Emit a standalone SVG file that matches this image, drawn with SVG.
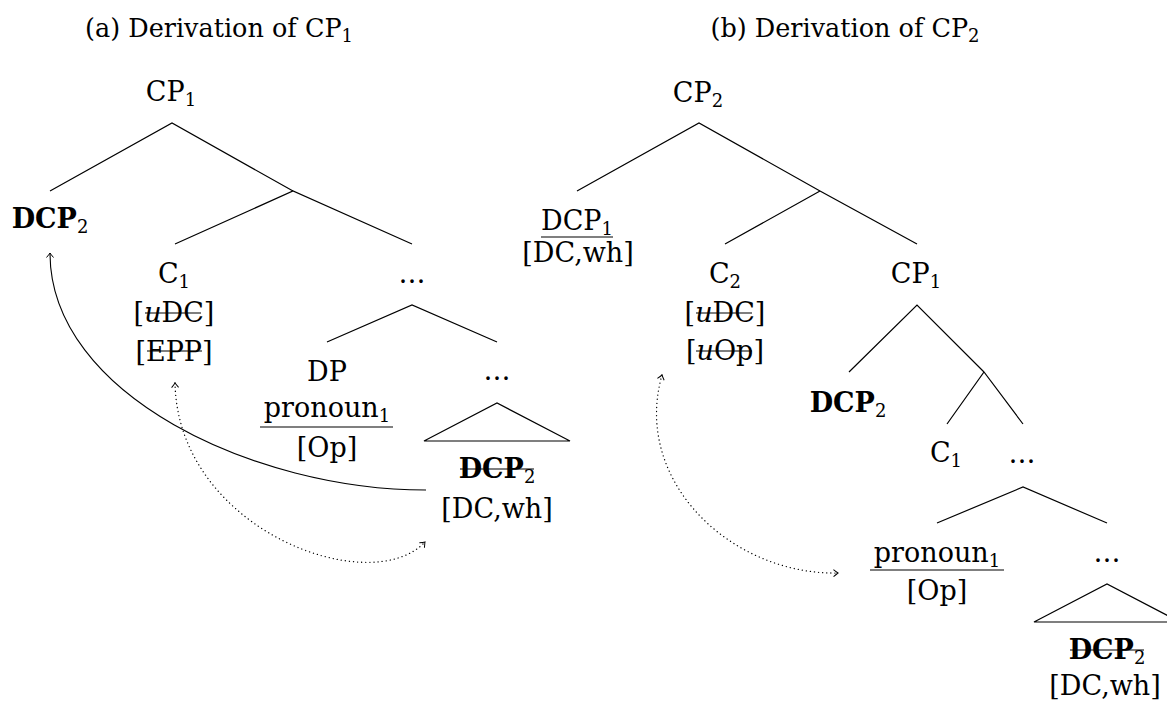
<svg xmlns="http://www.w3.org/2000/svg" width="1167" height="702" viewBox="0 0 1167 702">
<defs>
<style>
text{font-family:"DejaVu Serif","Liberation Serif",serif;font-size:27px;fill:#000;text-anchor:middle}
.title{font-size:25.5px}
.b{font-weight:bold}
.sub{font-size:18px}
.i{font-style:italic}
.e{stroke:#000;stroke-width:1.2;fill:none}
.rule{stroke:#000;stroke-width:1.2}
.arr{stroke:#000;stroke-width:1.1;fill:none}
.dot{stroke:#000;stroke-width:1.3;fill:none;stroke-dasharray:0.1 4;stroke-linecap:round}
</style>
<marker id="tip" viewBox="-6 -5 8 10" markerWidth="8" markerHeight="10" refX="0" refY="0" orient="auto-start-reverse" markerUnits="userSpaceOnUse">
<path d="M -4.5 -3.5 Q -1.5 -1 0 0 Q -1.5 1 -4.5 3.5" fill="none" stroke="#000" stroke-width="1"/>
</marker>
</defs>

<text class="title" x="219" y="37">(a) Derivation of CP<tspan class="sub" dy="5">1</tspan></text>
<text class="title" x="845" y="37">(b) Derivation of CP<tspan class="sub" dy="5">2</tspan></text>

<g id="edges">
<path class="e" d="M50 191 L172 123 L293 191 M175 244 L293 191 L412 244"/>
<path class="e" d="M327 342 L412 305 L497 342"/>
<path class="e" d="M424 441 L497 403 L570 441 Z"/>
<path class="e" d="M577 191 L699 123 L820 191 L917 244 M725 244 L820 191"/>
<path class="e" d="M849 372 L917 305 L984 372 M947 424 L984 372 L1023 424"/>
<path class="e" d="M937 523 L1023 487 L1107 523"/>
<path class="e" d="M1034 622 L1107 584 L1180 622 Z"/>
</g>

<g id="a-cp1"><text x="171" y="101">CP<tspan class="sub" dy="5">1</tspan></text></g>
<g id="a-dcp2"><text class="b" x="50" y="228">DCP<tspan class="sub" dy="5" font-weight="normal">2</tspan></text></g>
<g id="a-c1">
<text x="174" y="283">C<tspan class="sub" dy="5">1</tspan></text>
<text x="174" y="322">[<tspan class="i">u</tspan>DC]</text>
<line class="rule" x1="145" y1="313" x2="201" y2="313"/>
<text x="174" y="361">[EPP]</text>
<line class="rule" x1="147" y1="351" x2="202" y2="351"/>
</g>
<g id="a-dots1"><text x="412" y="283">…</text></g>
<g id="a-dp">
<text x="327" y="381">DP</text>
<text x="327" y="417">pronoun<tspan class="sub" dy="5">1</tspan></text>
<line class="rule" x1="260" y1="427" x2="393" y2="427"/>
<text x="327" y="457">[Op]</text>
</g>
<g id="a-dots2"><text x="497" y="380">…</text></g>
<g id="a-dcp2-low">
<text class="b" x="497" y="478">DCP<tspan class="sub" dy="5" font-weight="normal">2</tspan></text>
<line class="rule" x1="460" y1="469" x2="534" y2="469"/>
<text x="497" y="518">[DC,wh]</text>
</g>

<g id="b-cp2"><text x="698" y="102">CP<tspan class="sub" dy="5">2</tspan></text></g>
<g id="b-dcp1">
<text x="577" y="230">DCP<tspan class="sub" dy="5">1</tspan></text>
<line class="rule" x1="541" y1="237" x2="613" y2="237"/>
<text x="578" y="262">[DC,wh]</text>
</g>
<g id="b-c2">
<text x="725" y="283">C<tspan class="sub" dy="5">2</tspan></text>
<text x="725" y="322">[<tspan class="i">u</tspan>DC]</text>
<line class="rule" x1="696" y1="313" x2="752" y2="313"/>
<text x="725" y="360">[<tspan class="i">u</tspan>Op]</text>
<line class="rule" x1="696" y1="351" x2="752" y2="351"/>
</g>
<g id="b-cp1"><text x="916" y="283">CP<tspan class="sub" dy="5">1</tspan></text></g>
<g id="b-dcp2"><text class="b" x="848" y="412">DCP<tspan class="sub" dy="5" font-weight="normal">2</tspan></text></g>
<g id="b-c1"><text x="946" y="462">C<tspan class="sub" dy="5">1</tspan></text></g>
<g id="b-dots1"><text x="1022" y="463">…</text></g>
<g id="b-pron">
<text x="937" y="562">pronoun<tspan class="sub" dy="5">1</tspan></text>
<line class="rule" x1="870" y1="570" x2="1004" y2="570"/>
<text x="937" y="600">[Op]</text>
</g>
<g id="b-dots2"><text x="1107" y="562">…</text></g>
<g id="b-dcp2-low">
<text class="b" x="1107" y="659">DCP<tspan class="sub" dy="5" font-weight="normal">2</tspan></text>
<line class="rule" x1="1070" y1="650" x2="1144" y2="650"/>
<text x="1105" y="695">[DC,wh]</text>
</g>

<g id="connectors">
<path class="arr" d="M426 490 C 255 490, 50 395, 50 253" marker-end="url(#tip)"/>
<path class="dot" d="M175 383 C 178 530, 370 600, 425 542" marker-start="url(#tip)" marker-end="url(#tip)"/>
<path class="dot" d="M662 375 C 632 480, 730 575, 838 573" marker-start="url(#tip)" marker-end="url(#tip)"/>
</g>
</svg>
